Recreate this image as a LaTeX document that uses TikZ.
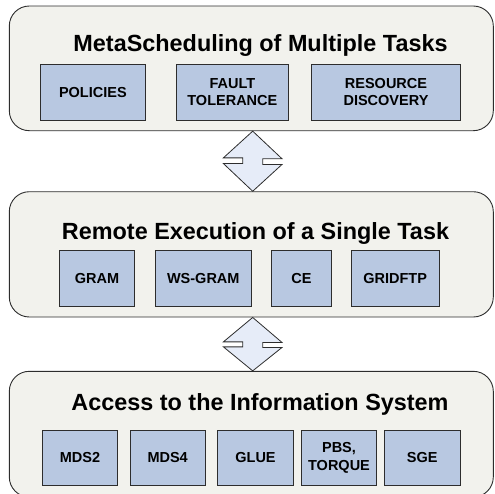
\documentclass[tikz,border=0pt]{standalone}
\usepackage{fontspec}
\setmainfont{Liberation Sans}
\usetikzlibrary{calc}
\definecolor{panelfill}{RGB}{242,242,237}
\definecolor{boxfill}{RGB}{184,200,225}
\definecolor{arrowfill}{RGB}{230,236,248}
\definecolor{edgecol}{RGB}{45,45,45}
\tikzset{
  panel/.style={draw=edgecol, line width=0.9pt, fill=panelfill, rounded corners=20pt, inner sep=0pt, minimum width=484pt},
  paneltitle/.style={anchor=base, inner sep=0pt, font=\fontsize{23.4}{27}\selectfont\bfseries},
  itembox/.style={draw=edgecol, line width=0.8pt, fill=boxfill, inner sep=0pt, minimum height=55.7pt, align=center, font=\fontsize{14.5}{17.5}\selectfont\bfseries},
  blockarrow/.style={draw=edgecol, line width=0.8pt, fill=arrowfill, line join=miter}
}
\begin{document}
\begin{tikzpicture}[x=1pt, y=-1pt]
\useasboundingbox (0,0) rectangle (495,493);
\clip (0,0) rectangle (495,493);
% panels
\node[panel, minimum height=124.7pt] (p1) at (251.3,68.35) {};
\node[panel, minimum height=125.3pt] (p2) at (251.3,254.35) {};
\node[panel, minimum height=125.7pt] (p3) at (251.3,434.15) {};
% titles
\node[paneltitle] (t1) at (260.5,51.7) {MetaScheduling of Multiple Tasks};
\node[paneltitle] (t2) at (255.5,239) {Remote Execution of a Single Task};
\node[paneltitle] (t3) at (260,410.7) {Access to the Information System};
% panel 1 boxes
\node[itembox, minimum width=104.3pt] (b11) at (92.85,92.15) {POLICIES};
\node[itembox, minimum width=112.7pt] (b12) at (232.35,92.15) {FAULT\\TOLERANCE};
\node[itembox, minimum width=149.4pt] (b13) at (386,92.15) {RESOURCE\\DISCOVERY};
% panel 2 boxes
\node[itembox, minimum width=75.4pt] (b21) at (97,278.7) {GRAM};
\node[itembox, minimum width=96pt] (b22) at (203.3,278.7) {WS-GRAM};
\node[itembox, minimum width=60.7pt] (b23) at (301.35,278.7) {CE};
\node[itembox, minimum width=87.7pt] (b24) at (395.15,278.7) {GRIDFTP};
% panel 3 boxes
\node[itembox, minimum width=75.4pt] (b31) at (80,457.85) {MDS2};
\node[itembox, minimum width=75.3pt] (b32) at (167.65,457.85) {MDS4};
\node[itembox, minimum width=75.6pt] (b33) at (255.5,457.85) {GLUE};
\node[itembox, minimum width=75.4pt] (b34) at (339,457.85) {PBS,\\TORQUE};
\node[itembox, minimum width=75.7pt] (b35) at (422.15,457.85) {SGE};
% double block arrows between panels
\coordinate (a1t) at ($(p1.south)+(1.4,0)$);
\coordinate (a1b) at ($(p2.north)+(1.4,0)$);
\coordinate (a2t) at ($(p2.south)+(1.4,0)$);
\coordinate (a2b) at ($(p3.north)+(1.4,0)$);
\draw[blockarrow] (a1t) -- ++(29.3,27.6) -- ++(-19.3,0) -- ++(0,5.7) -- ++(19.3,0)
  -- (a1b) -- ++(-29.3,-27.7) -- ++(19.3,0) -- ++(0,-5.7) -- ++(-19.3,0) -- cycle;
\draw[blockarrow] (a2t) -- ++(29.3,25) -- ++(-19.3,0) -- ++(0,5) -- ++(19.3,0)
  -- (a2b) -- ++(-29.3,-24) -- ++(19.3,0) -- ++(0,-5) -- ++(-19.3,0) -- cycle;
\end{tikzpicture}
\end{document}
